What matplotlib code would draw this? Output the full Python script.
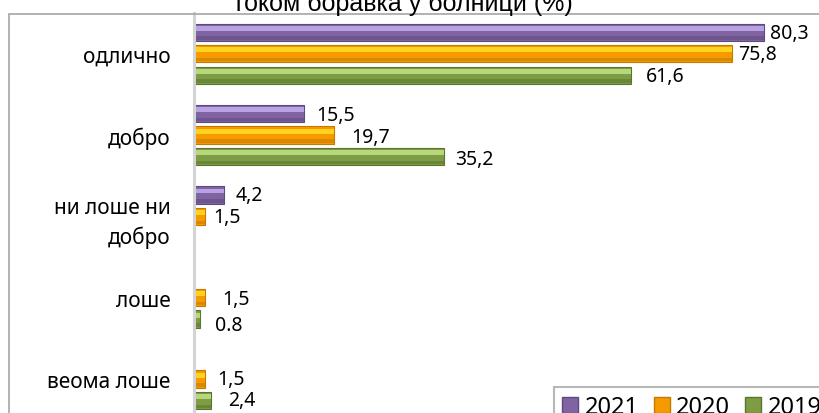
"""
Horizontal bar chart of patient ratings for the hospital stay, 2019-2021.
"""

import matplotlib.pyplot as plt
import numpy as np
from matplotlib.patches import Patch, Rectangle

plt.rcParams["font.family"] = ["Noto Sans", "DejaVu Sans"]

# Data.
categories = ["одлично", "добро", "ни лоше ни\nдобро", "лоше", "веома лоше"]
years = ["2021", "2020", "2019"]
vals_2021 = [80.3, 15.5, 4.2, np.nan, np.nan]
vals_2020 = [75.8, 19.7, 1.5, 1.5, 1.5]
vals_2019 = [61.6, 35.2, np.nan, 0.8, 2.4]
text_2021 = ["80,3", "15,5", "4,2", "", ""]
text_2020 = ["75,8", "19,7", "1,5", "1,5", "1,5"]
text_2019 = ["61,6", "35,2", "", "0.8", "2,4"]
title = "током боравка у болници (%)"

# (mid, light, dark) colours for the bevelled bars.
colors = [
    ("#8064a2", "#b9a2e3", "#5e4a7e"),
    ("#f59b00", "#ffd21f", "#c77800"),
    ("#7e9c43", "#b6d77c", "#5b7530"),
]

# Label nudges in pixels (dx right, dy down), as placed in the original.
nudge_dx = [
    [6, 12, 12, 0, 0],
    [6, 17, 9, 18, 13],
    [15, 11, 0, 15, 17],
]
nudge_dy = [
    [1, 1, 0, 0, 0],
    [0, 2, 1, 1.5, 0.5],
    [1, 2, 0, 5.5, 0],
]

W, H = 819, 414
fig = plt.figure(figsize=(W / 100, H / 100), dpi=100)
ax = fig.add_axes([194 / W, (H - 420.6) / H, 639 / W, 406.5 / H])

y = np.arange(len(categories))
pitch = 0.2645
height = 0.215

series = [
    (vals_2021, text_2021),
    (vals_2020, text_2020),
    (vals_2019, text_2019),
]

for k, (vals, texts) in enumerate(series):
    mid, light, dark = colors[k]
    vals = np.asarray(vals, dtype=float)
    idx = ~np.isnan(vals)
    yk = y[idx] + (k - 1) * pitch
    vk = vals[idx]

    # Base bar, light highlight band and darker lower band.
    ax.barh(yk, vk, height=height, color=mid, edgecolor=dark, linewidth=0.8)
    ax.barh(yk - height * 0.22, vk, height=height * 0.28, color=light,
            linewidth=0)
    ax.barh(yk + height * 0.34, vk, height=height * 0.2, color=dark,
            linewidth=0, alpha=0.55)

    for i in np.where(idx)[0]:
        ax.annotate(
            texts[i],
            (vals[i], y[i] + (k - 1) * pitch),
            xytext=(nudge_dx[k][i], -nudge_dy[k][i]),
            textcoords="offset pixels",
            va="center",
            ha="left",
            fontsize=14,
            color="black",
        )

ax.set_xlim(0, 90)
ax.set_ylim(len(categories) - 0.5, -0.5)
ax.set_yticks(y)
ax.set_yticklabels(categories, fontsize=15, multialignment="right")
for lab in ax.get_yticklabels():
    lab.set_linespacing(1.45)
ax.tick_params(axis="y", length=0, pad=17)
ax.set_xticks([])

for side in ["top", "right", "bottom"]:
    ax.spines[side].set_visible(False)
ax.spines["left"].set_color("#d4d4d4")
ax.spines["left"].set_linewidth(2.2)

# Chart border, cropped at the right and bottom.
fig.patches.append(
    Rectangle(
        (9 / W, -0.2),
        2.0,
        1.2 - 15 / H,
        transform=fig.transFigure,
        fill=False,
        edgecolor="#a6a6a6",
        linewidth=1.2,
    )
)

# Title, mostly cut off at the top.
fig.text(403 / W, 1 - 11 / H, title, ha="center", va="baseline",
         fontsize=18, family=["Liberation Sans", "DejaVu Sans"])

handles = [Patch(facecolor=c[0], edgecolor=c[2]) for c in colors]
leg = fig.legend(
    handles,
    years,
    loc="upper left",
    bbox_to_anchor=(554 / W, 1 - 388 / H),
    ncol=3,
    fontsize=17,
    frameon=True,
    fancybox=False,
    edgecolor="#a6a6a6",
    handlelength=0.68,
    handleheight=0.68,
    handletextpad=0.27,
    columnspacing=0.64,
    borderpad=0.35,
    borderaxespad=0,
)
leg.get_frame().set_linewidth(1.5)

fig.savefig("out.png", dpi=100)
